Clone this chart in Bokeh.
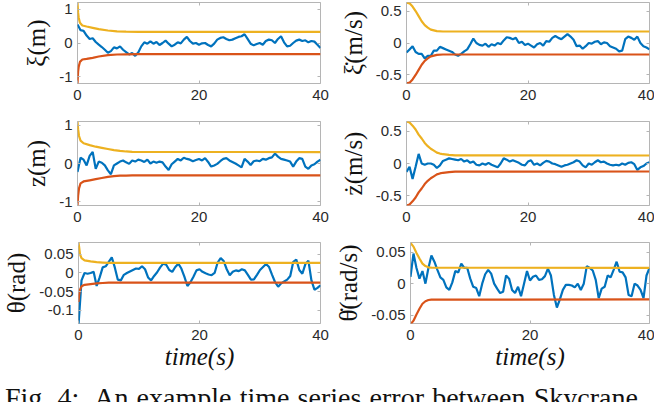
from bokeh.plotting import figure
from bokeh.layouts import column, row
from bokeh.models import LinearAxis, Range1d, FixedTicker, Div
from bokeh.embed import file_html
from bokeh.resources import INLINE

# ---------------- data ----------------
time = [i * 0.5 for i in range(81)]

xi_err = [0.55, 0.38, 0.36, 0.22, 0.12, 0.14, 0.03, -0.05, -0.12, -0.2,
          -0.29, -0.24, -0.13, -0.16, -0.1, -0.2, -0.27, -0.34, -0.3, -0.38,
          -0.28, -0.1, 0.02, -0.02, 0.05, -0.02, 0.03, -0.06, 0.0, 0.07,
          -0.02, -0.1, -0.05, 0.02, -0.01, 0.1, 0.18, 0.06, -0.02, 0.0,
          -0.05, -0.01, 0.0, -0.06, -0.1, -0.02, 0.1, 0.15, 0.17, 0.12,
          0.08, 0.1, 0.14, 0.18, 0.2, 0.26, 0.12, -0.02, -0.07, -0.03,
          0.0, -0.05, 0.06, 0.1, 0.08, 0.0, 0.12, 0.2, 0.02, -0.1,
          -0.08, 0.0, 0.07, 0.1, 0.06, 0.08, 0.02, 0.06, 0.04, -0.05, -0.15]

xidot_err = [-0.15, -0.1, -0.05, -0.14, -0.17, -0.17, -0.24, -0.2, -0.2, -0.12,
             -0.12, -0.06, -0.08, -0.1, -0.12, -0.14, -0.18, -0.2, -0.17, -0.13,
             -0.1, -0.02, 0.07, 0.0, -0.03, -0.04, -0.01, -0.06, -0.02, -0.04,
             0.0, -0.02, 0.04, 0.09, 0.08, 0.06, 0.08, 0.0, 0.02, -0.03,
             -0.01, -0.04, -0.07, -0.02, 0.0, -0.04, 0.03, 0.02, 0.08, 0.11,
             0.08, 0.06, 0.1, 0.14, 0.1, 0.05, -0.05, -0.04, -0.09, -0.05,
             0.0, -0.01, 0.02, 0.03, -0.02, 0.01, 0.0, -0.05, -0.07, -0.09,
             -0.13, -0.12, 0.06, 0.1, 0.08, 0.05, 0.1, 0.0, -0.05, -0.07, -0.1]

z_err = [-0.22, 0.15, 0.1, -0.05, 0.2, 0.3, -0.14, 0.05, 0.02, -0.05,
         -0.18, -0.28, -0.05, 0.0, 0.05, 0.08, 0.03, -0.01, 0.08, 0.05,
         0.1, 0.08, 0.04, 0.1, 0.0, 0.05, 0.02, 0.05, 0.03, -0.08,
         -0.17, -0.02, 0.05, 0.12, 0.08, 0.15, 0.12, 0.1, 0.06, 0.09,
         0.12, 0.08, 0.14, 0.04, -0.08, -0.05, -0.01, 0.06, 0.12, 0.14,
         0.08, 0.04, 0.0, -0.05, -0.1, 0.12, 0.05, -0.04, 0.06, 0.08,
         0.06, 0.12, 0.1, 0.14, 0.16, 0.26, 0.18, 0.12, 0.1, 0.08,
         0.05, -0.08, 0.05, 0.14, 0.12, -0.08, -0.14, -0.05, -0.02, 0.05, 0.1]

zdot_err = [-0.13, -0.05, -0.24, -0.05, 0.15, 0.0, -0.02, 0.0, 0.0, -0.02,
            -0.07, -0.03, 0.04, 0.06, 0.08, 0.07, 0.06, 0.05, 0.07, 0.03,
            0.05, 0.01, 0.03, -0.02, -0.03, 0.0, -0.02, 0.01, -0.02, -0.04,
            -0.06, 0.0, 0.08, 0.06, 0.03, 0.05, 0.03, 0.01, -0.02, -0.03,
            0.03, 0.05, -0.02, 0.0, -0.03, 0.01, 0.04, 0.03, 0.0, -0.01,
            -0.03, -0.05, -0.03, -0.02, 0.0, 0.02, 0.05, 0.03, -0.03, -0.06,
            0.0, -0.02, 0.02, 0.05, 0.02, 0.03, 0.0, -0.02, -0.03, -0.02,
            -0.03, 0.0, -0.02, 0.01, 0.02, -0.01, -0.1, -0.06, -0.04, 0.0, 0.02]

theta_err = [-0.14, -0.02, 0.0, -0.002, 0.0, 0.003, -0.035, -0.012, 0.015, 0.018,
             0.03, 0.042, 0.015, -0.018, -0.02, -0.005, 0.0, 0.004, 0.008, 0.012,
             0.011, 0.018, 0.01, -0.012, -0.02, -0.008, 0.002, 0.015, 0.025, 0.022,
             0.008, 0.003, 0.016, 0.025, 0.012, -0.01, -0.035, -0.025, -0.01, 0.007,
             0.01, 0.003, -0.001, -0.004, -0.006, 0.0, 0.028, 0.04, 0.032, 0.01,
             -0.006, 0.003, 0.007, 0.005, 0.01, 0.007, -0.005, -0.018, -0.017, -0.005,
             0.008, 0.016, 0.024, 0.016, -0.005, -0.025, -0.037, -0.028, -0.023, -0.018,
             -0.008, 0.03, 0.036, 0.008, -0.002, 0.024, 0.033, -0.02, -0.045, -0.04, -0.033]

thetadot_err = [0.011, 0.048, 0.025, 0.008, 0.02, 0.0, 0.025, 0.045, 0.035, 0.022,
                0.01, 0.006, -0.006, -0.01, 0.002, 0.02, 0.018, 0.032, 0.025, 0.025,
                0.008, -0.005, -0.007, -0.02, 0.0, 0.015, 0.022, 0.016, 0.0, -0.008,
                -0.015, -0.013, 0.013, 0.008, -0.01, -0.015, -0.005, -0.02, 0.0, 0.02,
                0.005, 0.011, 0.013, 0.006, 0.007, 0.012, 0.024, 0.013, -0.018, -0.038,
                -0.025, -0.01, -0.002, -0.002, -0.003, -0.006, 0.0, -0.01, 0.0, 0.028,
                0.025, 0.021, 0.006, -0.023, -0.008, -0.005, 0.013, 0.01, 0.022, 0.035,
                0.019, 0.018, 0.01, -0.018, -0.02, 0.0, -0.003, -0.01, -0.023, 0.013, 0.025]

# bounds (upper / lower)
xi_bt = [0, 0.1, 0.2, 0.4, 0.8, 1.5, 2.5, 3.5, 5, 6.5, 8, 10, 40]
xi_up = [1.2, 0.9, 0.75, 0.6, 0.52, 0.49, 0.45, 0.41, 0.37, 0.345, 0.335, 0.33, 0.33]
xi_lo = [-1.2, -0.85, -0.7, -0.56, -0.49, -0.47, -0.44, -0.4, -0.36, -0.34, -0.335, -0.33, -0.33]

xidot_bt = [0, 0.5, 1, 1.5, 2, 2.5, 3, 3.5, 4, 5, 6, 40]
xidot_up = [0.63, 0.62, 0.57, 0.5, 0.42, 0.34, 0.28, 0.24, 0.21, 0.185, 0.18, 0.18]
xidot_lo = [-0.63, -0.62, -0.57, -0.5, -0.42, -0.34, -0.28, -0.24, -0.21, -0.185, -0.18, -0.18]

z_bt = [0, 0.1, 0.25, 0.5, 1, 2, 3, 4, 5, 6, 7, 8, 9, 40]
z_up = [1.1, 0.9, 0.72, 0.6, 0.53, 0.48, 0.44, 0.41, 0.38, 0.35, 0.33, 0.315, 0.305, 0.3]
z_lo = [-1.1, -0.85, -0.65, -0.52, -0.47, -0.44, -0.41, -0.38, -0.35, -0.33, -0.32, -0.315, -0.31, -0.31]

zdot_bt = [0, 0.5, 1, 1.5, 2, 2.5, 3, 3.5, 4, 4.5, 5, 5.5, 6, 7, 8, 40]
zdot_up = [0.655, 0.64, 0.59, 0.53, 0.45, 0.39, 0.32, 0.27, 0.23, 0.2, 0.17, 0.155, 0.145, 0.135, 0.128, 0.125]
zdot_lo = [-0.655, -0.64, -0.59, -0.53, -0.45, -0.39, -0.32, -0.27, -0.23, -0.2, -0.17, -0.155, -0.145, -0.135, -0.128, -0.125]

theta_bt = [0, 0.1, 0.25, 0.5, 1, 2, 3, 4, 5, 40]
theta_up = [0.082, 0.07, 0.05, 0.04, 0.034, 0.031, 0.029, 0.028, 0.027, 0.027]
theta_lo = [-0.078, -0.06, -0.045, -0.036, -0.032, -0.03, -0.028, -0.027, -0.026, -0.026]

thetadot_bt = [0, 0.5, 1, 1.5, 2, 2.5, 3, 3.5, 40]
thetadot_up = [0.065, 0.059, 0.049, 0.04, 0.032, 0.028, 0.026, 0.0255, 0.025]
thetadot_lo = [-0.065, -0.059, -0.049, -0.04, -0.032, -0.028, -0.026, -0.0255, -0.025]

x_ticks = [0, 20, 40]
ylabels = ["ξ(m)", "ξ\u0307(m/s)", "z(m)", "z\u0307(m/s)", "θ(rad)", "θ\u0307(rad/s)"]
xlabel = "time(s)"
caption = "Fig. 4:&nbsp; An example time series error between Skycrane"

# ---------------- styling ----------------
BLUE = "#0072BD"
RED = "#D95319"
YELLOW = "#EDB120"
BOX = "#B5B5B5"
TICKFONT = "Liberation Sans"
LABELFONT = "Liberation Serif"


def fmt(v):
    return "0" if v == 0 else ("%g" % v)


def panel(err, bt, up, lo, yr, yticks, ylab, frame_h, top, bottom, left, right, xlab=None):
    p = figure(width=left + 243 + right, height=top + frame_h + bottom,
               x_range=Range1d(0, 40), y_range=Range1d(*yr),
               output_backend="svg", toolbar_location=None,
               min_border_left=left, min_border_right=right,
               min_border_top=top, min_border_bottom=bottom)
    p.xgrid.visible = False
    p.ygrid.visible = False
    p.outline_line_color = BOX
    p.outline_line_width = 1
    p.background_fill_color = "white"
    p.border_fill_color = "white"

    p.line(time, err, line_color=BLUE, line_width=2.2)
    p.line(bt, lo, line_color=RED, line_width=2.2)
    p.line(bt, up, line_color=YELLOW, line_width=2.2)

    xa = p.xaxis[0]
    xa.ticker = FixedTicker(ticks=x_ticks)
    ya = p.yaxis[0]
    ya.ticker = FixedTicker(ticks=yticks)
    ya.major_label_overrides = {t: fmt(t) for t in yticks}
    for ax in (xa, ya):
        ax.axis_line_color = None
        ax.major_tick_in = 3
        ax.major_tick_out = 0
        ax.major_tick_line_color = BOX
        ax.minor_tick_line_color = None
        ax.major_label_text_font = TICKFONT
        ax.major_label_text_font_size = "15px"
        ax.major_label_text_color = "#2a2a2a"
    xa.major_label_standoff = 6
    ya.major_label_standoff = 5
    ya.axis_label = ylab
    ya.axis_label_text_font = LABELFONT
    ya.axis_label_text_font_style = "normal"
    ya.axis_label_text_font_size = "25px"
    ya.axis_label_text_color = "#111111"
    ya.axis_label_standoff = 6
    if xlab:
        xa.axis_label = xlab
        xa.axis_label_text_font = LABELFONT
        xa.axis_label_text_font_style = "italic"
        xa.axis_label_text_font_size = "25px"
        xa.axis_label_text_color = "#111111"
        xa.axis_label_standoff = 0

    # box ticks on top and right (MATLAB style), no labels
    ta = LinearAxis(ticker=FixedTicker(ticks=x_ticks))
    ra = LinearAxis(ticker=FixedTicker(ticks=yticks))
    for ax in (ta, ra):
        ax.axis_line_color = None
        ax.major_tick_in = 3
        ax.major_tick_out = 0
        ax.major_tick_line_color = BOX
        ax.minor_tick_line_color = None
        ax.major_label_text_color = None
        ax.major_label_text_font_size = "1px"
        ax.major_label_standoff = 0
    p.add_layout(ta, "above")
    p.add_layout(ra, "right")
    return p


L_LEFT, L_RIGHT = 77, 12
R_LEFT, R_RIGHT = 74, 5

p1 = panel(xi_err, xi_bt, xi_up, xi_lo, (-1.2, 1.2), [-1, 0, 1], ylabels[0], 81, 2, 30, L_LEFT, L_RIGHT)
p2 = panel(xidot_err, xidot_bt, xidot_up, xidot_lo, (-0.633, 0.633), [-0.5, 0, 0.5], ylabels[1], 81, 2, 30, R_LEFT, R_RIGHT)
p3 = panel(z_err, z_bt, z_up, z_lo, (-1.1, 1.1), [-1, 0, 1], ylabels[2], 84, 8, 29, L_LEFT, L_RIGHT)
p4 = panel(zdot_err, zdot_bt, zdot_up, zdot_lo, (-0.655, 0.655), [-0.5, 0, 0.5], ylabels[3], 84, 8, 29, R_LEFT, R_RIGHT)
p5 = panel(theta_err, theta_bt, theta_up, theta_lo, (-0.136, 0.082), [-0.1, -0.05, 0, 0.05], ylabels[4], 83, 8, 47, L_LEFT, L_RIGHT, xlabel)
p6 = panel(thetadot_err, thetadot_bt, thetadot_up, thetadot_lo, (-0.0635, 0.0656), [-0.05, 0, 0.05], ylabels[5], 83, 8, 47, R_LEFT, R_RIGHT, xlabel)

cap = Div(text='<div style="font-family:\'Liberation Serif\'; font-size:28px; line-height:28px; '
               'margin-top:7px; padding-left:0px; white-space:nowrap; color:#111; word-spacing:1.2px">'
               + caption + '</div>',
          width=654, height=30, styles={"overflow": "hidden"})

layout = column(row(p1, p2), row(p3, p4), row(p5, p6), cap)

open("out.html", "w").write(file_html(layout, INLINE))
